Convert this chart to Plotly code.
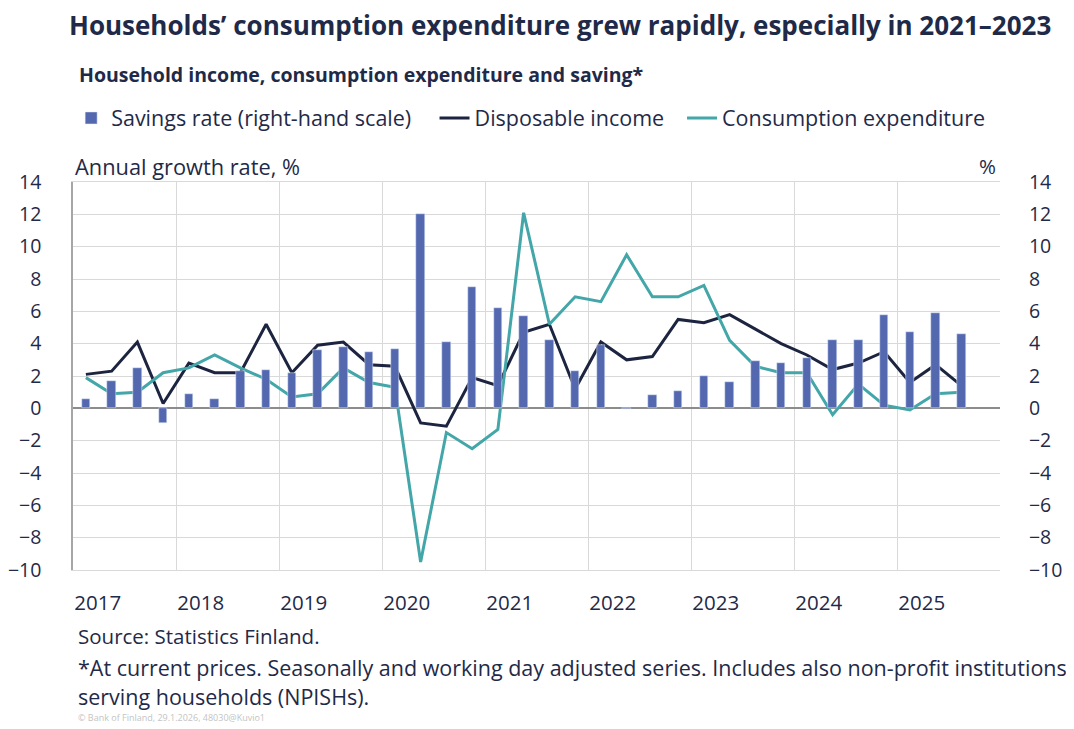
import plotly.graph_objects as go

# quarterly data, 2017Q1 .. 2025Q3
years = list(range(2017, 2026))
quarters = [f"{y}Q{q}" for y in years for q in range(1, 5)][:35]

savings_rate = [0.6, 1.7, 2.5, -0.9,
                0.9, 0.6, 2.3, 2.4,
                2.2, 3.6, 3.8, 3.5,
                3.7, 12.0, 4.1, 7.5,
                6.2, 5.7, 4.2, 2.3,
                3.9, -0.05, 0.8, 1.1,
                2.0, 1.6, 2.9, 2.8,
                3.1, 4.2, 4.2, 5.8,
                4.7, 5.9, 4.6]

disposable_income = [2.1, 2.3, 4.1, 0.3,
                     2.8, 2.2, 2.2, 5.2,
                     2.2, 3.9, 4.1, 2.7,
                     2.6, -0.9, -1.1, 1.9,
                     1.4, 4.7, 5.2, 1.2,
                     4.1, 3.0, 3.2, 5.5,
                     5.3, 5.8, 4.9, 4.0,
                     3.3, 2.4, 2.8, 3.5,
                     1.6, 2.7, 1.4]

consumption = [1.9, 0.9, 1.0, 2.2,
               2.5, 3.3, 2.5, 1.8,
               0.7, 0.9, 2.5, 1.6,
               1.3, -9.5, -1.5, -2.5,
               -1.3, 12.1, 5.2, 6.9,
               6.6, 9.5, 6.9, 6.9,
               7.6, 4.2, 2.6, 2.2,
               2.2, -0.4, 1.5, 0.2,
               -0.1, 0.9, 1.0]

# x position of each quarter: middle of the quarter on a year scale
xpos = [int(q[:4]) + (int(q[-1]) - 0.5) / 4 for q in quarters]

TEXT = "#1f2a48"
FONT = "Open Sans"
BAR = "#5468b0"
NAVY = "#1c2440"
TEAL = "#43a6a8"
GRID = "#d9d9d9"

fig = go.Figure()
fig.add_trace(go.Bar(x=xpos, y=savings_rate, name="Savings rate (right-hand scale)",
                     marker_color=BAR, width=0.083, yaxis="y2", hovertext=quarters,
                     legend="legend"))
fig.add_trace(go.Scatter(x=xpos, y=disposable_income, name="Disposable income",
                         mode="lines", line=dict(color=NAVY, width=3), hovertext=quarters,
                         legend="legend2"))
fig.add_trace(go.Scatter(x=xpos, y=consumption, name="Consumption expenditure",
                         mode="lines", line=dict(color=TEAL, width=3), hovertext=quarters,
                         legend="legend3"))

def legend_at(x):
    return dict(orientation="h", x=x, y=1.165, xanchor="left", yanchor="middle",
                font=dict(size=21.5, color=TEXT), itemwidth=30, bgcolor="rgba(0,0,0,0)")

yticks = list(range(-10, 15, 2))
# page body has an 8px margin, so the figure is drawn 8px smaller
fig.update_layout(
    width=1066, height=721,
    margin=dict(l=65, r=74, t=174, b=159, autoexpand=False),
    paper_bgcolor="white", plot_bgcolor="white",
    font=dict(family=FONT, size=20, color=TEXT),
    showlegend=True,
    legend=legend_at(-0.002),
    legend2=legend_at(0.390),
    legend3=legend_at(0.657),
    xaxis=dict(range=[2017, 2026], tickmode="array", automargin=False,
               tickvals=[y + 0.24 for y in years], ticktext=[str(y) for y in years],
               tickfont=dict(size=20.5),
               showgrid=False, ticks="outside", ticklen=14, tickcolor="rgba(0,0,0,0)",
               minor=dict(tickmode="array", tickvals=years + [2026], showgrid=True,
                          gridcolor=GRID, gridwidth=1),
               showline=True, linecolor=GRID, mirror=True, zeroline=False),
    yaxis=dict(range=[-10, 14], tickvals=yticks, showgrid=True, gridcolor=GRID,
               automargin=False, tickfont=dict(size=19.5),
               zeroline=True, zerolinecolor="#8c8c8c", zerolinewidth=1.5,
               showline=True, linecolor="#a6a6a6", linewidth=1.5,
               ticks="outside", ticklen=26, tickcolor="rgba(0,0,0,0)"),
    yaxis2=dict(range=[-10, 14], tickvals=yticks, overlaying="y", side="right",
                showgrid=False, zeroline=False, automargin=False, tickfont=dict(size=19.5),
                ticks="outside", ticklen=24, tickcolor="rgba(0,0,0,0)"),
    bargap=0,
)

def note(text, x, y, size=20.5, color=TEXT, bold=False, xanchor="left"):
    if bold:
        text = f"<b>{text}</b>"
    fig.add_annotation(text=text, x=x, y=y, xref="paper", yref="paper",
                       xanchor=xanchor, yanchor="middle", showarrow=False,
                       font=dict(family=FONT, size=size, color=color))

note("Households’ consumption expenditure grew rapidly, especially in 2021–2023",
     -0.006, 1.404, size=26, bold=True)
note("Household income, consumption expenditure and saving*", 0.004, 1.276, size=19.5, bold=True)
note("Annual growth rate, %", 0.0, 1.041, size=21.8)
note("%", 0.998, 1.041, xanchor="right")
note("Source: Statistics Finland.", 0.003, -0.170)
note("*At current prices. Seasonally and working day adjusted series. "
     "Includes also non-profit institutions", 0.003, -0.250, size=21.5)
note("serving households (NPISHs).", 0.003, -0.326, size=21.5)
note("© Bank of Finland, 29.1.2026, 48030@Kuvio1", 0.003, -0.381, size=9, color="#c4c4c4")

fig.write_html("out.html")
